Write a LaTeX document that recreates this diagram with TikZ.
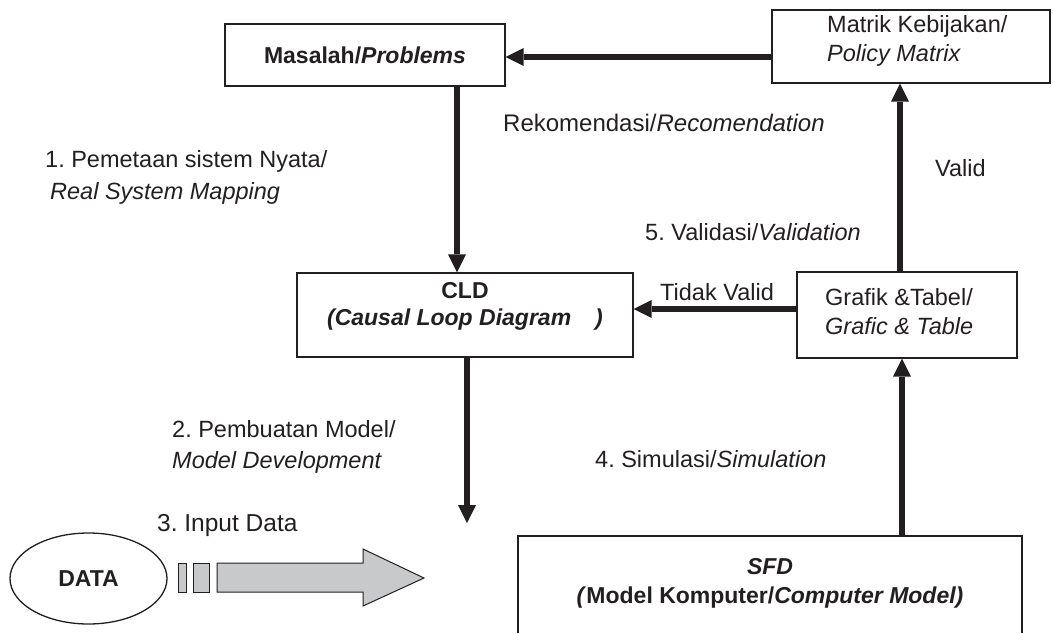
\documentclass[tikz,border=0pt]{standalone}
\usepackage{fontspec}
\setmainfont{Liberation Sans}
\usetikzlibrary{arrows.meta,shapes.geometric}
\definecolor{ink}{HTML}{231F20}
\definecolor{pipegrey}{HTML}{C8C9CA}
\frenchspacing

\begin{document}
\begin{tikzpicture}[x=1pt,y=-1pt,
  box/.style={draw=ink, line width=1.3pt, text=ink, align=center,
    font=\fontsize{23}{28}\selectfont},
  boxtext/.style={text=ink, align=center, inner sep=0pt,
    font=\fontsize{23}{27}\selectfont},
  flow/.style={draw=ink, line width=6pt,
    -{Triangle[length=18pt,width=18pt,line width=0pt]}},
  lbl/.style={text=ink, anchor=west, inner sep=0pt, align=left,
    font=\fontsize{23.5}{29}\selectfont},
  pipe/.style={draw=ink, fill=pipegrey, line width=1pt, line join=miter}]

\useasboundingbox (0,0) rectangle (1053,633);

% boxes
\node[box, minimum width=280pt, minimum height=62pt] (prob) at (365,55)
  {\textbf{Masalah/\textit{Problems}}};
\node[box, minimum width=278pt, minimum height=73pt] (policy) at (911,46.5) {};
\node[lbl] (policytxt) at (827,41) {Matrik Kebijakan/\\\textit{Policy Matrix}};
\node[box, minimum width=336pt, minimum height=84pt] (cld) at (465,315) {};
\node[boxtext] (cldtxt) at (465,306)
  {\textbf{CLD}\\\textbf{\textit{(Causal Loop Diagram\hspace{24pt})}}};
\node[box, minimum width=220pt, minimum height=86pt] (graph) at (907,315) {};
\node[lbl] (graphtxt) at (825,312) {Grafik \&Tabel/\\\textit{Grafic \& Table}};

% computer model frame, open at the bottom
\draw[ink, line width=1.3pt] (518,633) |- (1022,536) -- (1022,633);
\node[boxtext, font=\fontsize{23}{29}\selectfont] (sfd) at (770,583)
  {\textbf{\textit{SFD}}\\\textbf{\textit{(}Model Komputer/\textit{Computer Model)}}};

% data source
\node[draw=ink, line width=1.3pt, ellipse, minimum width=157pt, minimum height=91pt,
  text=ink, font=\fontsize{23}{26}\selectfont] (data) at (88.5,578.5) {\textbf{DATA}};
\draw[pipe] (178,563) rectangle (186,592);
\draw[pipe] (193,563) rectangle (209,592);
\draw[pipe] (217,563) -- (363,563) -- (363,549) -- (424,578) -- (363,606)
  -- (363,592) -- (217,592) -- cycle;

% connector columns and rows
\coordinate (colA) at (457,0);
\coordinate (colC) at (900,0);
\coordinate (rowP) at (0,57);
\coordinate (rowT) at (0,309);
\coordinate (downend) at (467,523);
\coordinate (upstart) at (902,535);

% connectors
\draw[flow] (policy.west |- rowP) -- (prob.east |- rowP);
\draw[flow] (prob.south -| colA) -- (cld.north -| colA);
\draw[flow] (cld.south -| downend) -- (downend);
\draw[flow] (upstart) -- (graph.south -| upstart);
\draw[flow] (graph.north -| colC) -- (policy.south -| colC);
\draw[flow] (graph.west |- rowT) -- (cld.east |- rowT);

% labels
\node[lbl, font=\fontsize{24}{29}\selectfont] (lrec) at (503,123) {Rekomendasi/\textit{Recomendation}};
\node[lbl, font=\fontsize{23.5}{32}\selectfont] (lmap) at (45,177)
  {1. Pemetaan sistem Nyata/\\\hspace*{5pt}\textit{Real System Mapping}};
\node[lbl] (lvalid) at (935,168) {Valid};
\node[lbl] (lval) at (645,232) {5. Validasi/\textit{Validation}};
\node[lbl] (ltidak) at (660,292) {Tidak Valid};
\node[lbl, font=\fontsize{23.5}{31}\selectfont] (lmodel) at (172,447)
  {2. Pembuatan Model/\\\textit{Model Development}};
\node[lbl] (lsim) at (595,459) {4. Simulasi/\textit{Simulation}};
\node[lbl, font=\fontsize{24.5}{29}\selectfont] (linput) at (157,525) {3. Input Data};
\end{tikzpicture}
\end{document}
